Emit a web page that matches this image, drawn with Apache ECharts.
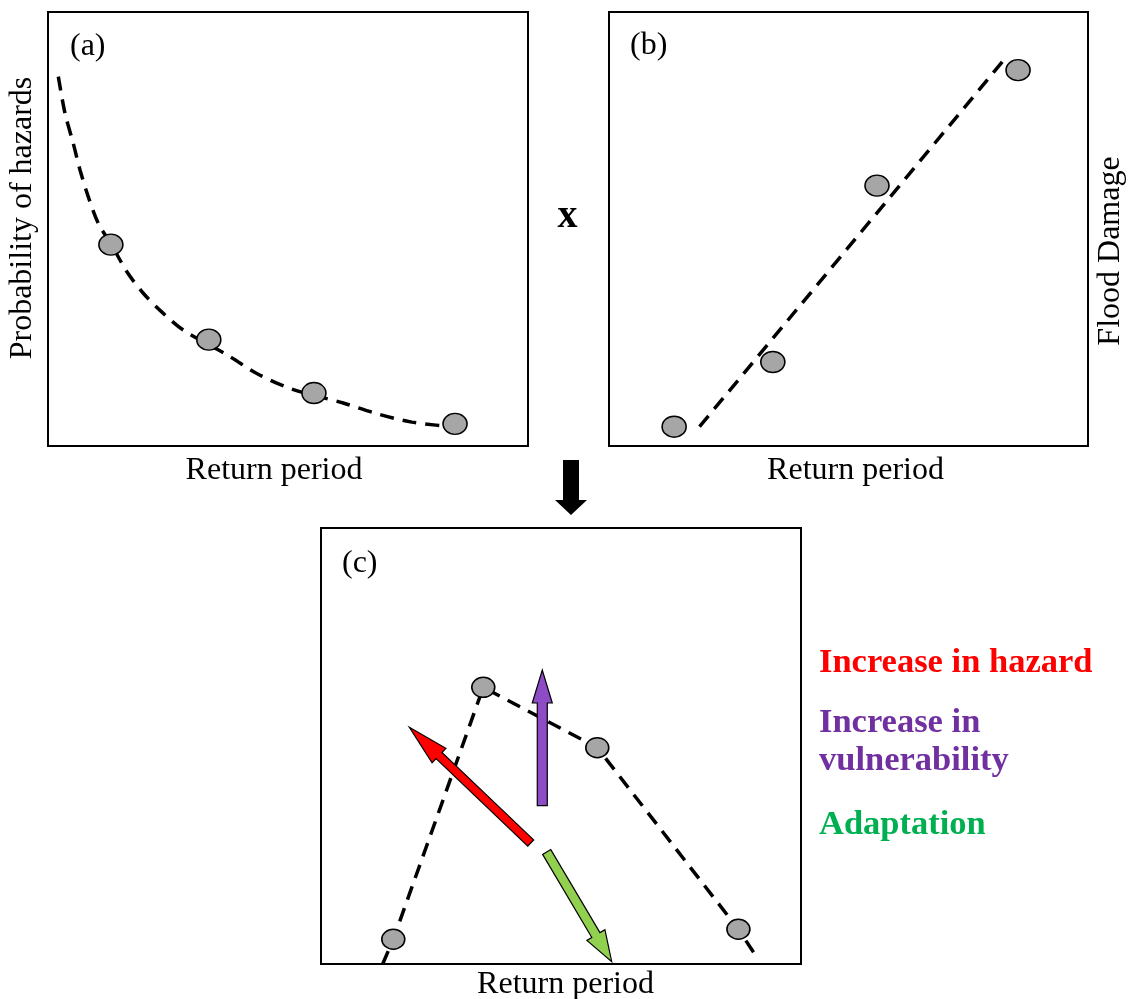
<!DOCTYPE html>
<html>
<head>
<meta charset="utf-8">
<script src="https://cdn.jsdelivr.net/npm/echarts@6/dist/echarts.min.js"></script>
<style>
  html, body { margin: 0; padding: 0; background: #fff; }
  #chart { width: 1131px; height: 999px; }
</style>
</head>
<body>
<div id="chart"></div>
<script>
// (a) probability of hazards against return period
const hazardPoints = [[13.1, 46.4], [33.5, 24.5], [55.4, 12.2], [84.8, 5.1]];
const hazardCurve = [[2.15, 85.1], [3.54, 76.7], [5.27, 69.7], [6.67, 63.6], [8.4, 57.4],
                     [10.48, 51.3], [13.27, 46.3], [16.4, 40.2], [19.85, 35.2], [23.69, 30.9],
                     [28.19, 26.7], [37.9, 20.6], [43.5, 16.7], [50.6, 13.2], [61.5, 9.9],
                     [68.7, 7.4], [75.8, 5.5], [87.3, 4.1]];

// (b) flood damage against return period
const damagePoints = [[13.6, 4.45], [34.2, 19.35], [55.95, 60.0], [85.4, 86.6]];
const damageLine = [[18.9, 4.45], [82.25, 88.7]];

// (c) resulting risk against return period
const riskPoints = [[15.06, 5.67], [33.81, 63.46], [57.56, 49.61], [86.96, 7.96]];
const riskCurve = [[12.85, 0], [15.06, 5.67], [33.81, 63.46], [57.56, 49.61], [86.96, 7.96], [90.4, 2.2]];

// shift arrows in (c): [fromX, fromY, toX, toY]
const arrowNames = ['Increase in hazard', 'Increase in vulnerability', 'Adaptation'];
const hazardArrow = [43.69, 27.75, 18.40, 54.29];
const vulnerabilityArrow = [46.10, 36.31, 46.10, 67.43];
const adaptationArrow = [47.02, 25.69, 60.56, 0.53];

const axisTitleX = 'Return period';
const axisTitleA = 'Probability of hazards';
const axisTitleB = 'Flood Damage';

const SERIF = 'Liberation Serif';

const arrowLooks = {
  'Increase in hazard':        { fill: '#FF0000', shaft: 8.5, headLen: 41, headW: 20 },
  'Increase in vulnerability': { fill: '#8E4BC6', shaft: 10,  headLen: 33, headW: 20 },
  'Adaptation':                { fill: '#92D050', shaft: 9.5, headLen: 31, headW: 21 }
};

function arrowRenderer(look) {
  return function (params, api) {
    const p0 = api.coord([api.value(0), api.value(1)]);
    const p1 = api.coord([api.value(2), api.value(3)]);
    const dx = p1[0] - p0[0], dy = p1[1] - p0[1];
    const len = Math.hypot(dx, dy);
    const ux = dx / len, uy = dy / len;
    const nx = -uy, ny = ux;
    const bx = p1[0] - ux * look.headLen, by = p1[1] - uy * look.headLen;
    const s = look.shaft / 2, h = look.headW / 2;
    const pts = [
      [p0[0] + nx * s, p0[1] + ny * s],
      [bx + nx * s, by + ny * s],
      [bx + nx * h, by + ny * h],
      [p1[0], p1[1]],
      [bx - nx * h, by - ny * h],
      [bx - nx * s, by - ny * s],
      [p0[0] - nx * s, p0[1] - ny * s]
    ];
    return {
      type: 'polygon',
      shape: { points: pts },
      style: { fill: look.fill, stroke: '#000', lineWidth: 1.2 }
    };
  };
}

const hiddenAxis = {
  type: 'value', min: 0, max: 100,
  axisLine: { show: false }, axisTick: { show: false },
  axisLabel: { show: false }, splitLine: { show: false }
};
const nameFont = { fontFamily: SERIF, fontSize: 32, color: '#000' };

// panel frames keep their exact size; axis titles may sit outside them
const gridBox = { show: true, borderColor: '#000', borderWidth: 2, backgroundColor: 'transparent',
                  containLabel: false, outerBoundsMode: 'none' };

const dashStyle = { color: '#000', width: 3.5, type: [14, 9] };
const markerStyle = { color: '#A6A6A6', borderColor: '#000', borderWidth: 1.5, opacity: 1 };

const option = {
  animation: false,
  backgroundColor: '#fff',
  grid: [
    Object.assign({ left: 48, top: 12, width: 480, height: 434 }, gridBox),
    Object.assign({ left: 609, top: 12, width: 479, height: 434 }, gridBox),
    Object.assign({ left: 321, top: 528, width: 480, height: 436 }, gridBox)
  ],
  xAxis: [
    Object.assign({}, hiddenAxis, { gridIndex: 0, name: axisTitleX, nameLocation: 'middle', nameGap: 9,
      nameTextStyle: Object.assign({}, nameFont, { padding: [0, 28, 0, 0], verticalAlign: 'top' }) }),
    Object.assign({}, hiddenAxis, { gridIndex: 1, name: axisTitleX, nameLocation: 'middle', nameGap: 9,
      nameTextStyle: Object.assign({}, nameFont, { padding: [0, 0, 0, 14], verticalAlign: 'top' }) }),
    Object.assign({}, hiddenAxis, { gridIndex: 2, name: axisTitleX, nameLocation: 'middle', nameGap: 5,
      nameTextStyle: Object.assign({}, nameFont, { padding: [0, 0, 0, 9], verticalAlign: 'top' }) })
  ],
  yAxis: [
    Object.assign({}, hiddenAxis, { gridIndex: 0, name: axisTitleA, nameLocation: 'middle', nameGap: 9, nameRotate: 90,
      nameTextStyle: Object.assign({}, nameFont, { padding: [0, 0, 0, 22] }) }),
    Object.assign({}, hiddenAxis, { gridIndex: 1, position: 'right', name: axisTitleB, nameLocation: 'middle', nameGap: 7, nameRotate: 90,
      nameTextStyle: Object.assign({}, nameFont, { padding: [0, 44, 0, 0] }) }),
    Object.assign({}, hiddenAxis, { gridIndex: 2 })
  ],
  series: [
    { name: 'hazard curve', type: 'line', xAxisIndex: 0, yAxisIndex: 0, data: hazardCurve,
      smooth: 0.3, symbol: 'none', lineStyle: dashStyle, z: 2 },
    { name: 'hazard', type: 'scatter', xAxisIndex: 0, yAxisIndex: 0, data: hazardPoints,
      symbol: 'circle', symbolSize: [24, 21], itemStyle: markerStyle, z: 3 },

    { name: 'damage line', type: 'line', xAxisIndex: 1, yAxisIndex: 1, data: damageLine,
      symbol: 'none', lineStyle: dashStyle, z: 2 },
    { name: 'damage', type: 'scatter', xAxisIndex: 1, yAxisIndex: 1, data: damagePoints,
      symbol: 'circle', symbolSize: [24, 21], itemStyle: markerStyle, z: 3 },

    { name: 'risk curve', type: 'line', xAxisIndex: 2, yAxisIndex: 2, data: riskCurve,
      symbol: 'none', lineStyle: dashStyle, z: 2 },
    { name: 'risk', type: 'scatter', xAxisIndex: 2, yAxisIndex: 2, data: riskPoints,
      symbol: 'circle', symbolSize: [23, 20], itemStyle: markerStyle, z: 3 },

    { name: arrowNames[0], type: 'custom', xAxisIndex: 2, yAxisIndex: 2, clip: false, z: 4,
      data: [hazardArrow], encode: { x: [0, 2], y: [1, 3] }, renderItem: arrowRenderer(arrowLooks[arrowNames[0]]) },
    { name: arrowNames[1], type: 'custom', xAxisIndex: 2, yAxisIndex: 2, clip: false, z: 4,
      data: [vulnerabilityArrow], encode: { x: [0, 2], y: [1, 3] }, renderItem: arrowRenderer(arrowLooks[arrowNames[1]]) },
    { name: arrowNames[2], type: 'custom', xAxisIndex: 2, yAxisIndex: 2, clip: false, z: 4,
      data: [adaptationArrow], encode: { x: [0, 2], y: [1, 3] }, renderItem: arrowRenderer(arrowLooks[arrowNames[2]]) }
  ],
  graphic: [
    { type: 'text', x: 70, y: 47, style: { text: '(a)', fontFamily: SERIF, fontSize: 32, fill: '#000', align: 'left', verticalAlign: 'middle' } },
    { type: 'text', x: 630, y: 46, style: { text: '(b)', fontFamily: SERIF, fontSize: 32, fill: '#000', align: 'left', verticalAlign: 'middle' } },
    { type: 'text', x: 342, y: 564, style: { text: '(c)', fontFamily: SERIF, fontSize: 32, fill: '#000', align: 'left', verticalAlign: 'middle' } },
    { type: 'text', x: 567.5, y: 217, style: { text: 'x', fontFamily: SERIF, fontSize: 40, fontWeight: 'bold', fill: '#000', align: 'center', verticalAlign: 'middle' } },
    // arrow joining the two upper panels to the lower one
    { type: 'polygon', shape: { points: [[563, 460], [579, 460], [579, 500], [587, 500], [571, 515], [555, 500], [563, 500]] },
      style: { fill: '#000' } },
    { type: 'text', x: 819, y: 663, style: { text: 'Increase in hazard', fontFamily: SERIF, fontSize: 34.5, fontWeight: 'bold', fill: '#FF0000', align: 'left', verticalAlign: 'middle' } },
    { type: 'text', x: 819, y: 723, style: { text: 'Increase in', fontFamily: SERIF, fontSize: 34.5, fontWeight: 'bold', fill: '#7030A0', align: 'left', verticalAlign: 'middle' } },
    { type: 'text', x: 819, y: 761, style: { text: 'vulnerability', fontFamily: SERIF, fontSize: 34.5, fontWeight: 'bold', fill: '#7030A0', align: 'left', verticalAlign: 'middle' } },
    { type: 'text', x: 819, y: 825.5, style: { text: 'Adaptation', fontFamily: SERIF, fontSize: 34.5, fontWeight: 'bold', fill: '#00B050', align: 'left', verticalAlign: 'middle' } }
  ]
};

const chart = echarts.init(document.getElementById('chart'), null, { renderer: 'canvas' });
chart.setOption(option);
</script>
</body>
</html>
